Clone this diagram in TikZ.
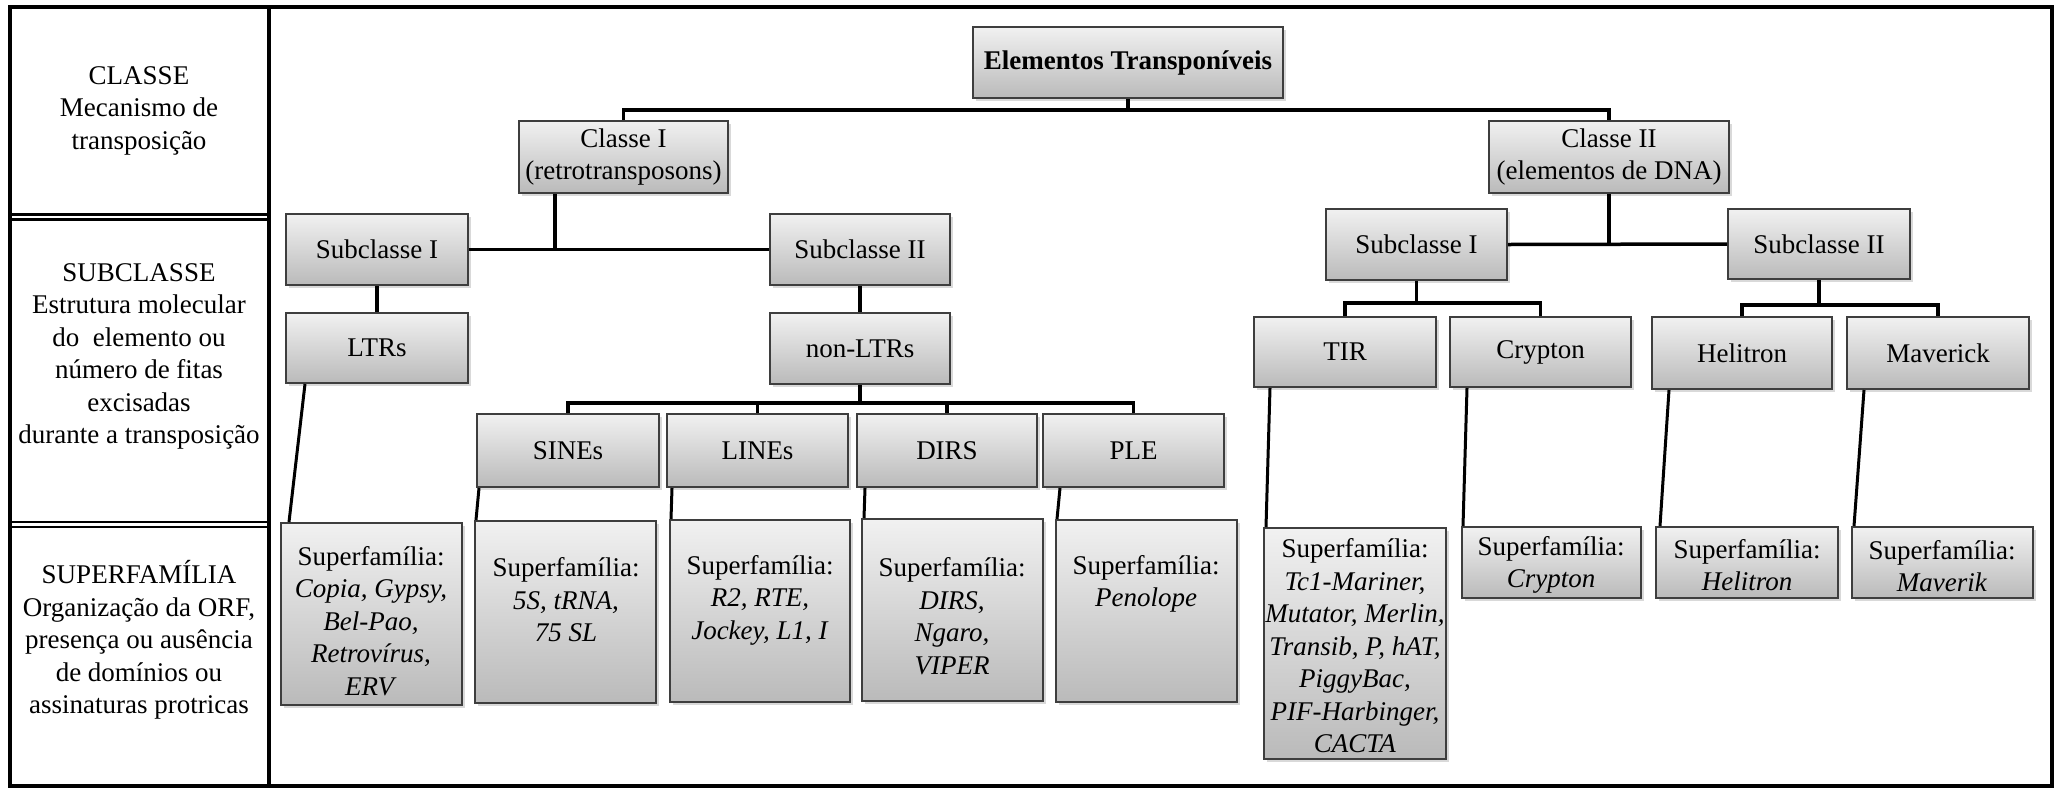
\documentclass[tikz,border=0pt]{standalone}
\usepackage{fontspec}
\setmainfont{Liberation Serif}
\usetikzlibrary{shadows}
\definecolor{boxtop}{RGB}{241,241,241}
\definecolor{boxbot}{RGB}{186,186,186}
\definecolor{boxline}{RGB}{62,62,62}
\tikzset{
  box/.style={draw=boxline, line width=2pt, top color=boxtop, bottom color=boxbot,
    inner sep=0pt, align=center, font=\fontsize{27}{32.5}\selectfont,
    drop shadow={shadow xshift=2.5pt, shadow yshift=-3pt, opacity=0.3}},
  txt/.style={inner sep=0pt, align=center, font=\fontsize{27}{32.5}\selectfont},
  conn/.style={line width=3.5pt, black},
  slant/.style={line width=3pt, black},
  frame/.style={line width=3.5pt, black},
  dbl/.style={line width=2.5pt, black}
}
\newcommand\bx[6]{\node[box, minimum width=#4pt, minimum height=#5pt] (#1) at (#2,#3) {#6};}
\begin{document}
\begin{tikzpicture}[x=1pt,y=-1pt]
\useasboundingbox (0,0) rectangle (2058,788);
% frame
\draw[frame] (10,7) rectangle (2052,786);
\draw[frame] (269,7) -- (269,786);
\draw[dbl] (10,214.5) -- (269,214.5);
\draw[dbl] (10,219.5) -- (269,219.5);
\draw[dbl] (10,522) -- (269,522);
\draw[dbl] (10,527) -- (269,527);
% left column texts
\node[txt] (lcl) at (139,110.5) {CLASSE\\Mecanismo de\\transposição};
\node[txt] (lsub) at (139,356.5) {SUBCLASSE\\Estrutura molecular\\do~ elemento ou\\número de fitas\\excisadas\\durante a transposição};
\node[txt] (lsup) at (139,640) {SUPERFAMÍLIA\\Organização da ORF,\\presença ou ausência\\de domínios ou\\assinaturas protricas};
% upper boxes
\bx{elem}{1128}{62.5}{310}{71}{\textbf{Elementos Transponíveis}}
\bx{c1}{623.5}{157}{209}{72}{Classe I\\(retrotransposons)}
\bx{c2}{1609}{157}{240}{72}{Classe II\\(elementos de DNA)}
\bx{s1}{377}{249.5}{182}{71}{Subclasse I}
\bx{s2}{860}{249.5}{180}{71}{Subclasse II}
\bx{ltr}{377}{348}{182}{70}{LTRs}
\bx{nl}{860}{348.5}{180}{71}{non-LTRs}
\bx{sine}{568}{450.5}{182}{73}{SINEs}
\bx{line}{757.5}{450.5}{181}{73}{LINEs}
\bx{dirs}{947}{450.5}{180}{73}{DIRS}
\bx{ple}{1133.5}{450.5}{181}{73}{PLE}
\bx{s3}{1416.5}{244.5}{181}{71}{Subclasse I}
\bx{s4}{1819}{244}{182}{70}{Subclasse II}
\bx{tir}{1345}{352}{182}{70}{TIR}
\bx{cry}{1540.5}{352}{181}{70}{Crypton}
\bx{hel}{1742}{353}{180}{72}{Helitron}
\bx{mav}{1938}{353}{182}{72}{Maverick}
% superfamily boxes
\bx{fltr}{371.5}{614}{181}{182}{}
\bx{fsine}{565.5}{612}{181}{182}{}
\bx{fline}{760}{611}{180}{182}{}
\bx{fdirs}{952.5}{610}{181}{182}{}
\bx{fple}{1146.5}{611}{181}{182}{}
\bx{ftir}{1355}{643.5}{182}{231}{}
\bx{fcry}{1551.5}{562.5}{179}{71}{}
\bx{fhel}{1747}{562.5}{182}{71}{}
\bx{fmav}{1942.5}{562.5}{181}{71}{}
\node[txt] (tltr) at (371,621) {Superfamília:\\\textit{Copia, Gypsy,}\\\textit{Bel-Pao,}\\\textit{Retrovírus,}\\\textit{ERV}};
\node[txt] (tsine) at (566,600) {Superfamília:\\\textit{5S, tRNA,}\\\textit{75 SL}};
\node[txt] (tline) at (760,600) {Superfamília:\\\textit{R2, RTE,}\\\textit{Jockey, L1, I}};
\node[txt] (tdirs) at (952,616) {Superfamília:\\\textit{DIRS,}\\\textit{Ngaro,}\\\textit{VIPER}};
\node[txt] (tple) at (1146,584) {Superfamília:\\\textit{Penolope}};
\node[txt] (ttir) at (1355,646) {Superfamília:\\\textit{Tc1-Mariner,}\\\textit{Mutator, Merlin,}\\\textit{Transib, P, hAT,}\\\textit{PiggyBac,}\\\textit{PIF-Harbinger,}\\\textit{CACTA}};
\node[txt] (tcry) at (1551,565) {Superfamília:\\\textit{Crypton}};
\node[txt] (thel) at (1747,565) {Superfamília:\\\textit{Helitron}};
\node[txt] (tmav) at (1942,566) {Superfamília:\\\textit{Maverik}};
% connectors
\coordinate (j0) at (1128,110);
\draw[conn] (elem.south) -- (j0);
\draw[conn] (c1.north) -- (c1.north |- j0) -- (c2.north |- j0) -- (c2.north);
\coordinate (j1) at (555,249.5);
\draw[conn] (c1.south -| j1) -- (j1);
\draw[conn] (s1.east) -- (s2.west);
\draw[conn] (c2.south) -- (c2.south |- s3.east);
\draw[conn] (s3.east) -- (s4.west);
\draw[conn] (s1.south) -- (ltr.north);
\draw[conn] (s2.south) -- (nl.north);
\coordinate (j2) at (860,403);
\draw[conn] (nl.south) -- (j2);
\draw[conn] (sine.north) -- (sine.north |- j2) -- (ple.north |- j2) -- (ple.north);
\draw[conn] (line.north) -- (line.north |- j2);
\draw[conn] (dirs.north) -- (dirs.north |- j2);
\coordinate (j3) at (1416.5,303);
\draw[conn] (s3.south) -- (j3);
\draw[conn] (tir.north) -- (tir.north |- j3) -- (cry.north |- j3) -- (cry.north);
\coordinate (j4) at (1819,305);
\draw[conn] (s4.south) -- (j4);
\draw[conn] (hel.north) -- (hel.north |- j4) -- (mav.north |- j4) -- (mav.north);
% slanted links to superfamilies
\draw[slant] ([xshift=20pt]ltr.south west) -- ([xshift=9pt]fltr.north west);
\draw[slant] ([xshift=3pt]sine.south west) -- ([xshift=2pt]fsine.north west);
\draw[slant] ([xshift=6pt]line.south west) -- ([xshift=2pt]fline.north west);
\draw[slant] ([xshift=9pt]dirs.south west) -- ([xshift=3pt]fdirs.north west);
\draw[slant] ([xshift=18pt]ple.south west) -- ([xshift=2pt]fple.north west);
\draw[slant] ([xshift=17pt]tir.south west) -- ([xshift=3pt]ftir.north west);
\draw[slant] ([xshift=18pt]cry.south west) -- ([xshift=2pt]fcry.north west);
\draw[slant] ([xshift=18pt]hel.south west) -- ([xshift=5pt]fhel.north west);
\draw[slant] ([xshift=18pt]mav.south west) -- ([xshift=3pt]fmav.north west);
\end{tikzpicture}
\end{document}
